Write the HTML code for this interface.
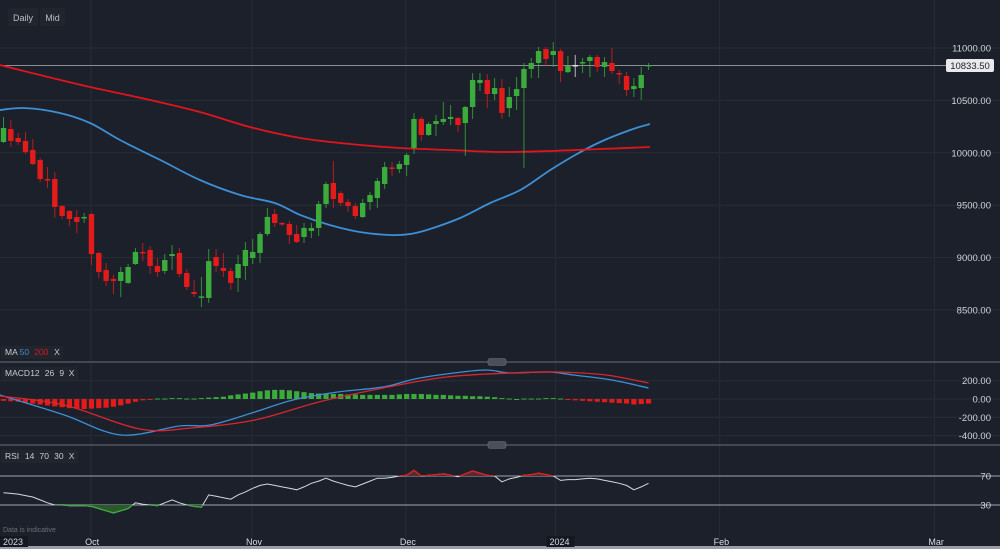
<!DOCTYPE html>
<html><head><meta charset="utf-8">
<style>
html,body{margin:0;padding:0;background:#1b202a;overflow:hidden}
svg{display:block;font-family:"Liberation Sans",sans-serif}
</style></head>
<body>
<svg id="chart" width="1000" height="549" viewBox="0 0 1000 549">
<rect x="0" y="0" width="1000" height="549" fill="#1b202a"/>
<g id="grid"></g>
<g id="main"></g>
<g id="macd"></g>
<g id="rsi"></g>
<g id="axes"></g>
<g>
<rect x="8" y="8" width="30" height="18" rx="2" fill="#20252e"/>
<text x="23" y="21" font-size="9" fill="#b8bec8" text-anchor="middle">Daily</text>
<rect x="40" y="8" width="25" height="18" rx="2" fill="#20252e"/>
<text x="52.5" y="21" font-size="9" fill="#b8bec8" text-anchor="middle">Mid</text>
</g>
</svg>
<script>
// ---- data ----
const opens  = [10103,10227,10141,10113,10027,9931,9750,9750,9492,9445,9387,9378,9416,9044,8882,8796,8777,8758,8939,9054,9073,8920,8872,9015,9044,8853,8672,8620,8615,9006,8901,8872,8805,8920,8996,9044,9225,9416,9330,9321,9225,9197,9254,9283,9511,9712,9616,9530,9492,9387,9530,9569,9702,9860,9845,9884,10046,10323,10170,10275,10294,10323,10332,10284,10437,10666,10695,10561,10618,10427,10542,10618,10800,10857,10990,10933,10971,10770,10838,10857,10876,10914,10819,10857,10761,10733,10608,10618,10828];
const closes = [10237,10113,10103,10008,9893,9750,9740,9483,9397,9368,9340,9388,9034,8863,8777,8777,8863,8910,9054,9044,8920,8863,8977,9034,8844,8720,8653,8630,8967,8920,8872,8758,8939,9073,9054,9225,9388,9330,9321,9216,9149,9283,9283,9511,9702,9559,9521,9492,9397,9521,9597,9731,9864,9850,9893,9979,10323,10170,10275,10303,10323,10342,10265,10437,10695,10695,10561,10618,10380,10532,10608,10800,10857,10971,10895,10971,10780,10828,10838,10866,10914,10819,10866,10780,10752,10599,10637,10742,10838];
const highs  = [10342,10313,10189,10198,10132,9950,9864,9817,9502,9454,9454,9426,9426,9054,8948,8834,8910,8939,9092,9139,9111,8996,9034,9120,9092,8891,8786,8815,9082,9082,9044,8901,9025,9149,9178,9244,9473,9464,9340,9350,9311,9330,9330,9540,9721,9922,9635,9559,9521,9559,9626,9760,9912,9912,9922,9998,10380,10342,10294,10361,10485,10456,10342,10447,10761,10761,10752,10713,10704,10628,10723,10857,10905,11010,11010,11057,10990,10924,10933,10905,10933,10933,10914,11000,10790,10771,10713,10819,10857];
const lows   = [10094,10055,10074,9989,9884,9721,9664,9378,9368,9302,9235,9330,8930,8805,8729,8653,8624,8748,8930,8967,8844,8815,8844,8882,8815,8691,8624,8529,8567,8863,8815,8691,8672,8786,8939,8948,9206,9292,9302,9130,9139,9139,9187,9206,9473,9473,9492,9435,9368,9378,9454,9473,9654,9778,9807,9778,9989,10113,10160,10160,10265,10265,10198,9970,10323,10590,10427,10504,10323,10342,10408,9855,10713,10713,10828,10819,10675,10761,10723,10761,10723,10770,10723,10752,10656,10542,10532,10504,10790];
const dojiWhite = 78;
const ma50Idx = [-0.5,2.9,7.7,11.8,15.9,21.4,26.8,32.3,37,40.5,44.5,48.6,52.7,55.5,58.2,62.3,66.4,70.5,74.6,78,81.4,85.5,88.2];
const ma50Val = [10408,10427,10380,10284,10122,9931,9740,9597,9521,9406,9311,9244,9216,9225,9273,9378,9521,9645,9836,9979,10103,10218,10275];
const ma200Idx = [-0.5,5,11.8,20,26.8,33.6,40.5,47.3,54.1,60.9,67.7,74.6,81.4,88.2];
const ma200Val = [10838,10742,10628,10504,10389,10246,10141,10084,10046,10027,10008,10017,10036,10055];
const macdIdx = [-0.5,8.3,16,24,28.2,34.3,39.5,45.6,51.8,56.1,60.4,65.7,69.1,74.3,77.8,83,88];
const macdVal = [44,-175,-393,-295,-284,-142,-11,77,131,219,273,317,284,295,262,208,120];
const sigIdx = [-0.5,8.3,18.6,25.6,34.3,43,51.8,60.4,69.1,75.2,82.2,88];
const sigVal = [33,-66,-328,-317,-230,-33,120,240,284,295,262,175];
const hist = [-20,-25,-30,-40,-50,-60,-70,-80,-90,-100,-105,-110,-105,-100,-95,-85,-70,-50,-30,-15,-5,5,5,10,10,5,5,10,15,20,25,40,50,60,70,85,95,100,100,95,85,75,65,60,55,55,55,50,50,45,45,45,45,45,50,55,55,55,50,45,45,40,35,35,30,30,25,20,10,5,0,5,5,5,10,10,5,-10,-15,-20,-25,-30,-35,-40,-45,-50,-60,-55,-50];
const rsi = [47,46,45,43,41,37,33,30,30,29,29,29,28,25,22,19,22,25,33,31,30,29,33,37,33,30,28,27,44,42,40,38,44,48,53,57,59,57,55,53,51,55,60,63,67,63,60,57,55,59,63,67,67,68,70,71,78,70,71,72,73,71,69,73,77,74,71,70,62,66,68,71,72,74,72,70,64,65,65,66,67,66,64,62,60,57,51,55,60];
const priceTicks = [11000,10500,10000,9500,9000,8500];
const priceTickLabels = ["11000.00","10500.00","10000.00","9500.00","9000.00","8500.00"];
const macdTicks = [200,0,-200,-400];
const macdTickLabels = ["200.00","0.00","-200.00","-400.00"];
const rsiTicks = [70,30];
const monthLabels = ["2023","Oct","Nov","Dec","2024","Feb","Mar"];
const monthIdx = [-0.3,11.95,33.9,54.9,75.3,97.7,127];
const lastPrice = 10833.5;

// ---- scales ----
const NS="http://www.w3.org/2000/svg";
const xOf = i => 3.5 + i*7.33;
const yP = v => 48 + (11000 - v)*0.1048;
const yM = v => 399 - v*0.0915;
const yR = v => 476 + (70 - v)*0.725;
function mk(tag, attrs, parent){const e=document.createElementNS(NS,tag);for(const k in attrs)e.setAttribute(k,attrs[k]);parent.appendChild(e);return e;}
const grid=document.getElementById('grid'),main=document.getElementById('main'),macdG=document.getElementById('macd'),rsiG=document.getElementById('rsi'),axes=document.getElementById('axes');

// grid
priceTicks.forEach((v,k)=>{
  const l=mk('line',{x1:0,x2:1000,y1:yP(v),y2:yP(v),stroke:'#272d37','stroke-width':1},grid);
  
  
  const t=mk('text',{x:991,y:yP(v)+3.5,'font-size':9.5,fill:'#d0d4da','text-anchor':'end'},axes);
  t.textContent=priceTickLabels[k];
  
  
});
monthIdx.forEach((m,k)=>{
  if(k===0) return;
  const l=mk('line',{x1:xOf(m),x2:xOf(m),y1:0,y2:537,stroke:'#272d37','stroke-width':1},grid);
  
  
});
macdTicks.forEach((v,k)=>{
  const l=mk('line',{x1:0,x2:1000,y1:yM(v),y2:yM(v),stroke:'#272d37','stroke-width':1},grid);
  
  
  const t=mk('text',{x:991,y:yM(v)+3.5,'font-size':9.5,fill:'#d0d4da','text-anchor':'end'},axes);
  t.textContent=macdTickLabels[k];
  
  
});
rsiTicks.forEach(v=>{
  const l=mk('line',{x1:0,x2:1000,y1:yR(v),y2:yR(v),stroke:'#9aa6b4','stroke-width':1},grid);
  
  
  const t=mk('text',{x:991,y:yR(v)+3.5,'font-size':9.5,fill:'#d0d4da','text-anchor':'end'},axes);
  t.textContent=String(v);
  
  
});
[362,445].forEach(y=>{
  const l=mk('line',{x1:0,x2:1000,y1:y,y2:y,stroke:'#5a606a','stroke-width':1.2},grid);
  
  
  const h=mk('rect',{x:488,y:y-3.5,width:18,height:7,rx:2,fill:'#4a4f58',stroke:'#6a6f78','stroke-width':0.6},grid);
  
  
});
// bottom axis bar
const ab=mk('rect',{x:0,y:537,width:1000,height:12,fill:'#1b202a'},axes);


const ab2=mk('rect',{x:0,y:546,width:1000,height:3,fill:'#9a9ea4'},axes);


monthLabels.forEach((m,k)=>{
  const x=k===0?3:xOf(monthIdx[k])-6;
  if(k===0||k===4){const bg=mk('rect',{x:k===0?0:x-3,y:536,width:28,height:11,fill:'#141820'},axes);}
  const t=mk('text',{x:x,y:545,'font-size':9,fill:'#d8dce2'},axes);
  t.textContent=m;
  
  
});
const di=mk('text',{x:3,y:532,'font-size':7,fill:'#6a707a'},axes);
di.textContent='Data is indicative';



// current price line
const cp=mk('line',{x1:0,x2:946,y1:yP(lastPrice),y2:yP(lastPrice),stroke:'#8a8f96','stroke-width':1},main);


const cpb=mk('rect',{x:946,y:yP(lastPrice)-6.5,width:48,height:13,rx:2,fill:'#e8eaee'},axes);


const cpt=mk('text',{x:970,y:yP(lastPrice)+3.5,'font-size':9.5,fill:'#222','text-anchor':'middle'},axes);
cpt.textContent=lastPrice.toFixed(2);



// lines helpers
function linePath(idx, vals, yf){return idx.map((i,k)=>(k?'L':'M')+xOf(i).toFixed(1)+','+yf(vals[k]).toFixed(1)).join(' ');}
function smoothPath(idx, vals, yf){
  const p=idx.map((i,k)=>[xOf(i),yf(vals[k])]);
  let d='M'+p[0][0].toFixed(1)+','+p[0][1].toFixed(1);
  for(let k=0;k<p.length-1;k++){
    const p0=p[Math.max(0,k-1)],p1=p[k],p2=p[k+1],p3=p[Math.min(p.length-1,k+2)];
    const c1=[p1[0]+(p2[0]-p0[0])/6,p1[1]+(p2[1]-p0[1])/6];
    const c2=[p2[0]-(p3[0]-p1[0])/6,p2[1]-(p3[1]-p1[1])/6];
    d+=` C${c1[0].toFixed(1)},${c1[1].toFixed(1)} ${c2[0].toFixed(1)},${c2[1].toFixed(1)} ${p2[0].toFixed(1)},${p2[1].toFixed(1)}`;
  }
  return d;
}
const m50=mk('path',{d:smoothPath(ma50Idx,ma50Val,yP),fill:'none',stroke:'#3d8fd6','stroke-width':1.8,'stroke-linejoin':'round'},main);


const m200=mk('path',{d:smoothPath(ma200Idx,ma200Val,yP),fill:'none',stroke:'#e0141c','stroke-width':1.8,'stroke-linejoin':'round'},main);



// candles
opens.forEach((o,i)=>{
  const c=closes[i],x=xOf(i);
  let col=c>=o?'#3bab3b':'#e31b1b';
  if(i===dojiWhite) col='#e0e0e0';
  const g=mk('g',{},main);
  
  
  const w=mk('line',{x1:x,x2:x,y1:yP(highs[i]),y2:yP(lows[i]),stroke:col,'stroke-width':1,opacity:0.8},g);
  
  
  const top=yP(Math.max(o,c)),h=Math.max(1.5,yP(Math.min(o,c))-top);
  const b=mk('rect',{x:x-2.7,y:top,width:5.4,height:h,fill:col},g);
  
  
});

// MACD histogram & lines
hist.forEach((v,i)=>{
  const y0=yM(0),y1=yM(v);
  const r=mk('rect',{x:xOf(i)-2.6,y:Math.min(y0,y1),width:5.2,height:Math.max(1,Math.abs(y1-y0)),fill:v>=0?'#3bab3b':'#e31b1b'},macdG);
  
  
});
const ml=mk('path',{d:smoothPath(macdIdx,macdVal,yM),fill:'none',stroke:'#3d8fd6','stroke-width':1.3},macdG);


const sl=mk('path',{d:smoothPath(sigIdx,sigVal,yM),fill:'none',stroke:'#d8262e','stroke-width':1.3},macdG);



// RSI
const rIdx=rsi.map((v,i)=>i);
const rd=linePath(rIdx,rsi,yR);
const defs=mk('defs',{},rsiG);
const cp1=mk('clipPath',{id:'below30'},defs);
mk('rect',{x:0,y:yR(30),width:1000,height:60},cp1);
const cp2=mk('clipPath',{id:'above70'},defs);
mk('rect',{x:0,y:440,width:1000,height:yR(70)-440},cp2);
const gf=mk('path',{d:rd+` L${xOf(rsi.length-1)},${yR(30)} L${xOf(0)},${yR(30)} Z`,fill:'#2a5a2a',stroke:'none','clip-path':'url(#below30)'},rsiG);


const rf=mk('path',{d:rd+` L${xOf(rsi.length-1)},${yR(70)} L${xOf(0)},${yR(70)} Z`,fill:'#5a2a30',stroke:'none','clip-path':'url(#above70)'},rsiG);


const rl=mk('path',{d:rd,fill:'none',stroke:'#d6d9de','stroke-width':1},rsiG);


const rlg=mk('path',{d:rd,fill:'none',stroke:'#3bab3b','stroke-width':1.2,'clip-path':'url(#below30)'},rsiG);


const rlr=mk('path',{d:rd,fill:'none',stroke:'#e31b1b','stroke-width':1.2,'clip-path':'url(#above70)'},rsiG);



// indicator legends
function legend(y, parts, name){
  const g=mk('g',{},axes);
  
  
  let w=parts.reduce((s,p)=>s+p[0].length*5.3+4,0)+4;
  const bg=mk('rect',{x:1,y:y-9,width:w,height:13,fill:'#20252e'},g);
  
  
  let x=5;
  parts.forEach(p=>{const t=mk('text',{x:x,y:y,'font-size':8.5,fill:p[1]},g);t.textContent=p[0];
    
    
    x+=p[0].length*5.3+4;});
}
legend(355,[['MA','#c8ccd2'],['50','#3d8fd6'],['200','#e0141c'],['X','#c8ccd2']],'ma-legend');
legend(376,[['MACD','#c8ccd2'],['12','#c8ccd2'],['26','#c8ccd2'],['9','#c8ccd2'],['X','#c8ccd2']],'macd-legend');
legend(459,[['RSI','#c8ccd2'],['14','#c8ccd2'],['70','#c8ccd2'],['30','#c8ccd2'],['X','#c8ccd2']],'rsi-legend');
</script>
</body></html>
